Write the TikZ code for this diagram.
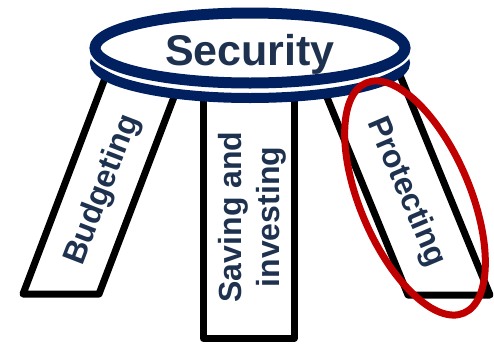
\documentclass[tikz,border=0pt]{standalone}
\usepackage{fontspec}
\setmainfont{Liberation Sans}
\definecolor{navy}{HTML}{002060}
\definecolor{labelblue}{HTML}{1E3250}
\definecolor{ringred}{HTML}{C00000}
\begin{document}
\begin{tikzpicture}[x=1pt,y=-1pt,
  leg/.style={draw=black, line width=7pt, line join=round, fill=white},
  seat/.style={draw=navy, fill=white},
  legtext/.style={font=\bfseries\fontsize{32}{38.4}\selectfont, text=labelblue},
  titletext/.style={font=\bfseries\fontsize{43}{50}\selectfont, text=labelblue}]
\useasboundingbox (0,0) rectangle (494,343);

% the three legs of the stool
\draw[leg] (23,294) -- (105.8,76) -- (182,76) -- (99,294) -- cycle;
\draw[leg] (203.5,76) rectangle (294,338.5);
\draw[leg] (408,295) -- (316.6,72) -- (398.6,72) -- (490,295) -- cycle;

% the seat: two stacked rings
\draw[seat, line width=10pt] (250,63) ellipse [x radius=155pt, y radius=35pt];
\draw[white, line width=16pt, fill=white] (250,48) ellipse [x radius=155pt, y radius=35pt];
\draw[seat, line width=11pt] (250,48) ellipse [x radius=155pt, y radius=35pt];

% labels
\node[titletext, anchor=base] (security) at (250,65) {Security};
\node[legtext, rotate=69] (budget) at (103,190) {Budgeting};
\node[legtext, rotate=90, align=center] (saving) at (252.5,217) {Saving and\\investing};
\node[legtext, rotate=-67] (protect) at (406,192) {Protecting};

% highlight ring round the third leg
\coordinate (ringc) at (415,198);
\draw[ringred, line width=7pt, rotate around={-67:(ringc)}] (ringc) ellipse [x radius=125pt, y radius=55pt];
\end{tikzpicture}
\end{document}
